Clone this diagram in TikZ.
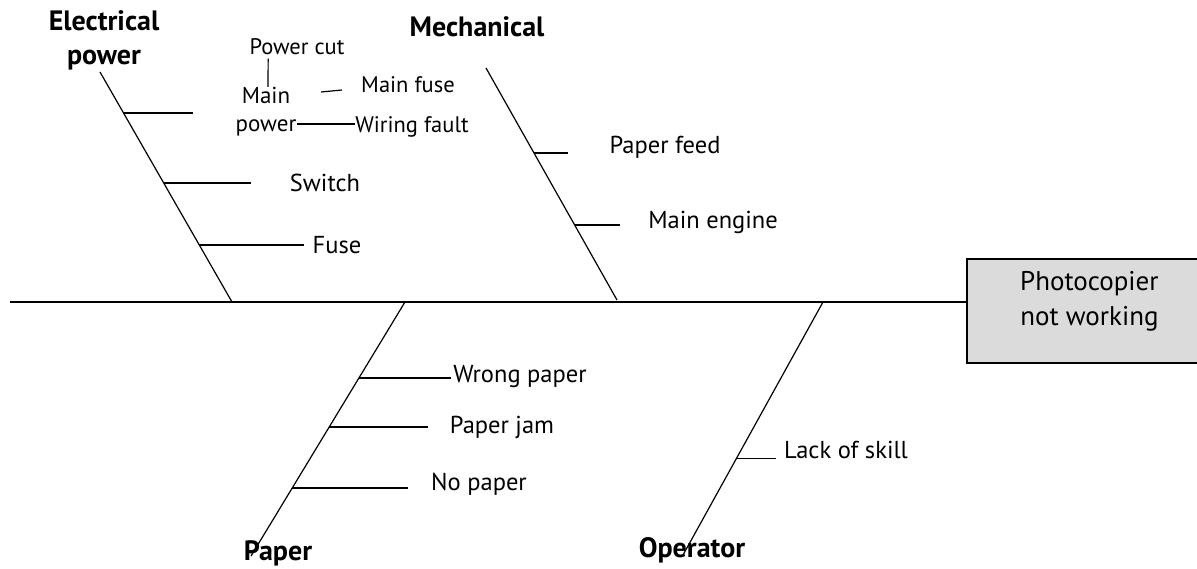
\documentclass[tikz,border=0pt]{standalone}
\usepackage{fontspec}
\setmainfont{PT Sans}
\usetikzlibrary{positioning, calc}

\begin{document}
\begin{tikzpicture}[x=1pt, y=-1pt, line width=1.2pt,
  cause/.style={font=\fontsize{28}{34}\selectfont\bfseries, inner sep=0pt, align=center},
  item/.style={font=\fontsize{24.5}{28}\selectfont, inner sep=0pt},
  small/.style={font=\fontsize{22.5}{24}\selectfont, inner sep=0pt}]

\useasboundingbox (0,0) rectangle (1197,569);

% effect box
\node[draw, line width=1.8pt, fill=black!14, minimum width=252pt, minimum height=104pt] (n0) at (1093,311) {};
\node[align=center, font=\fontsize{27}{35}\selectfont, inner sep=0pt] (t0) at (1093,301) {
  \begin{tabular}{c}
    Photocopier \\
    not working
  \end{tabular}
};

% spine
\coordinate (s0) at (10,302);
\draw[line width=1.8pt] (s0) -- (s0 -| n0.west);

% bones
\coordinate (e0) at (100,72);  \coordinate (e9) at (232,302);
\coordinate (m0) at (486,68);  \coordinate (m9) at (617,300);
\coordinate (p0) at (405,302); \coordinate (p9) at (251,556);
\coordinate (o0) at (823,302); \coordinate (o9) at (683,555);
\draw (e0) -- (e9);
\draw (m0) -- (m9);
\draw (p0) -- (p9);
\draw (o0) -- (o9);

% cause labels
\node[cause] (L1) at (104,40) {Electrical\\power};
\node[cause] (L2) at (477,27) {Mechanical};
\node[cause] (L3) at (278,553) {Paper};
\node[cause] (L4) at (692,550) {Operator};

% electrical power
\coordinate (e1) at ($(e0)!0.178!(e9)$);
\coordinate (e2) at ($(e0)!0.483!(e9)$);
\coordinate (e3) at ($(e0)!0.752!(e9)$);
\node[item] (sw) at (325,183) {Switch};
\node[item] (fu) at (337,245) {Fuse};
\draw (e1) -- ++(70,0);
\draw[shorten >=38pt] (e2) -- (e2 -| sw.west);
\draw[shorten >=8pt] (e3) -- (e3 -| fu.west);

\node[item, align=center, font=\fontsize{23}{28}\selectfont] (mp) at (266,112) {Main\\power};
\node[small] (pc) at (297,47) {Power cut};
\node[small] (mf) at (408,85) {Main fuse};
\node[small] (wf) at (412,127) {Wiring fault};
\draw[shorten <=3pt] ($(pc.south west)!0.2!(pc.south east)$) -- ([xshift=2pt]mp.north);
\coordinate (mf0) at (321,92);
\draw (mf0) -- ++(21,-2);
\draw ([yshift=3pt]wf.west) -- ([yshift=3pt]wf.west -| mp.east);

% mechanical
\coordinate (m1) at ($(m0)!0.366!(m9)$);
\coordinate (m2) at ($(m0)!0.677!(m9)$);
\node[item] (pf) at (665,147) {Paper feed};
\node[item] (me) at (713,222) {Main engine};
\draw[shorten >=41pt] (m1) -- (m1 -| pf.west);
\draw[shorten >=28pt] (m2) -- (m2 -| me.west);

% paper
\coordinate (p1) at ($(p0)!0.299!(p9)$);
\coordinate (p2) at ($(p0)!0.492!(p9)$);
\coordinate (p3) at ($(p0)!0.732!(p9)$);
\node[item] (wp) at (520,377) {Wrong paper};
\node[item] (pj) at (502,427) {Paper jam};
\node[item] (np) at (479,484) {No paper};
\draw[shorten >=2pt] (p1) -- (p1 -| wp.west);
\draw[shorten >=21pt] (p2) -- (p2 -| pj.west);
\draw[shorten >=23pt] (p3) -- (p3 -| np.west);

% operator
\coordinate (o1) at ($(o0)!0.617!(o9)$);
\node[item] (ls) at (846,450) {Lack of skill};
\draw[shorten >=8pt] (o1) -- (o1 -| ls.west);

\end{tikzpicture}
\end{document}
